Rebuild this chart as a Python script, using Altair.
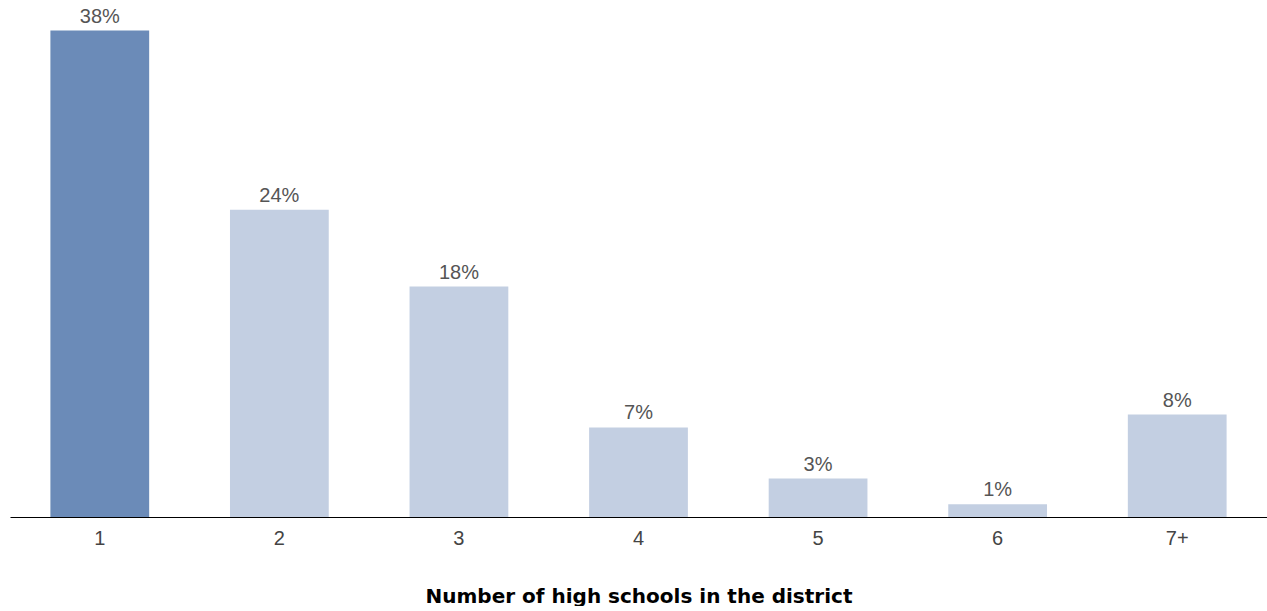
import altair as alt
import pandas as pd

categories = ["1", "2", "3", "4", "5", "6", "7+"]
values = [38, 24, 18, 7, 3, 1, 8]
labels = ["38%", "24%", "18%", "7%", "3%", "1%", "8%"]
highlight = [True, False, False, False, False, False, False]

df = pd.DataFrame({"cat": categories, "val": values, "label": labels, "hl": highlight})

x = alt.X("cat:N", sort=categories,
          scale=alt.Scale(paddingInner=0.45, paddingOuter=0.225),
          axis=alt.Axis(title="Number of high schools in the district", labelAngle=0,
                        ticks=False, domainColor="#000000", domainWidth=1.2,
                        labelFont="Liberation Sans", labelFontSize=20, labelColor="#444444",
                        labelPadding=11, titleFont="DejaVu Sans", titleFontSize=20,
                        titleFontWeight="bold", titleColor="#000000", titlePadding=38))
y = alt.Y("val:Q", scale=alt.Scale(domain=[0, 40]), axis=None)

bars = alt.Chart(df).mark_bar().encode(
    x=x, y=y,
    color=alt.Color("hl:N", scale=alt.Scale(domain=[True, False], range=["#6b8bb8", "#c3cfe2"]), legend=None),
)
text = alt.Chart(df).mark_text(baseline="alphabetic", dy=-8, font="Liberation Sans",
                               fontSize=20, color="#555555").encode(
    x=alt.X("cat:N", sort=categories), y=y, text="label:N")

chart = (bars + text).properties(
    width=1257, height=512,
    autosize=alt.AutoSizeParams(type="pad"),
    padding={"left": 10, "top": 5, "right": 0, "bottom": 0},
    background="white",
).configure_view(stroke=None)

chart.save("out.html", embed_options={"renderer": "svg", "actions": False})
